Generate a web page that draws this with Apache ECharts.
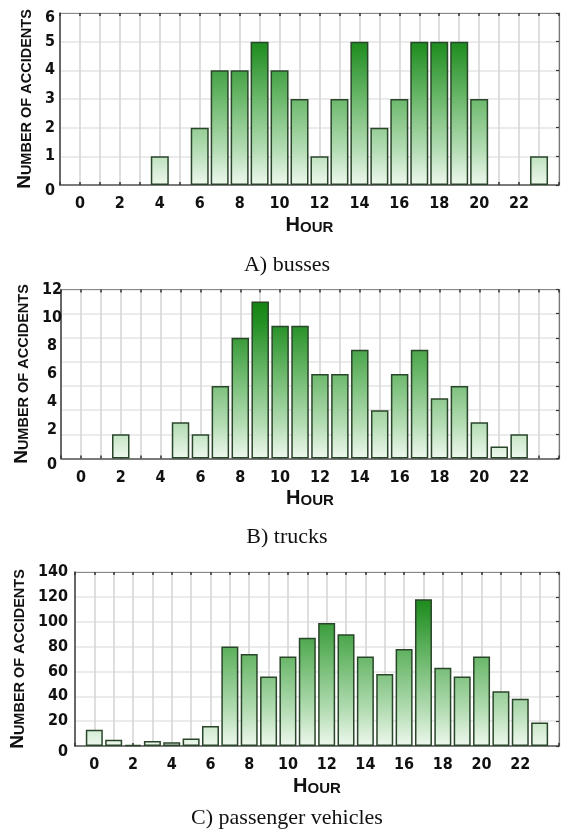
<!DOCTYPE html>
<html>
<head>
<meta charset="utf-8">
<script src="https://cdn.jsdelivr.net/npm/echarts@6/dist/echarts.min.js"></script>
<style>
  html, body { margin: 0; padding: 0; background: #ffffff; }
  #chart { width: 562px; height: 838px; }
</style>
</head>
<body>
<div id="chart"></div>
<script>
// Accidents per hour of day (0..23) for three vehicle groups
const hours = [0,1,2,3,4,5,6,7,8,9,10,11,12,13,14,15,16,17,18,19,20,21,22,23];
const busses = [0,0,0,0,1,0,2,4,4,5,4,3,1,3,5,2,3,5,5,5,3,0,0,1];
const trucks = [0,0,2,0,0,3,2,6,10,13,11,11,7,7,9,4,7,9,5,6,3,1,2,0];
const passengerVehicles = [13,5,1,4,3,6,16,80,74,56,72,87,99,90,72,58,78,118,63,56,72,44,38,19];

// Tick labels
const hourLabels = [0,2,4,6,8,10,12,14,16,18,20,22];
const busTicks = [0,1,2,3,4,5,6];
const truckTicks = [0,2,4,6,8,10,12];
const truckGridScale = [0,2,4,6,8,10,12,14];
const passengerTicks = [0,20,40,60,80,100,120,140];

const captions = ['A) busses', 'B) trucks', 'C) passenger vehicles'];

const TICK_FONT = "'DejaVu Sans Condensed', 'Liberation Sans', sans-serif";
const TITLE_FONT = "'Liberation Sans', Arial, sans-serif";
const CAPTION_FONT = "'Liberation Serif', 'Times New Roman', serif";

const panels = [
  { values: busses,            box: { left: 60, top: 13,  width: 500, height: 172 },   ticks: busTicks,       scale: busTicks,       barWidth: 18,   labelAlign: 'right',  labelMargin: 5, topShift: 10, captionY: 265 },
  { values: trucks,            box: { left: 61, top: 289.5, width: 502, height: 169 }, ticks: truckTicks,     scale: truckGridScale, barWidth: 17.5, labelAlign: 'center', labelMargin: 9, topShift: 0,  captionY: 537 },
  { values: passengerVehicles, box: { left: 66, top: 572, width: 493, height: 174 },   ticks: passengerTicks, scale: passengerTicks, barWidth: 17,   labelAlign: 'right',  labelMargin: 7, topShift: 0,  captionY: 818 }
];

function step(arr) { return arr[1] - arr[0]; }

const grid = [], xAxis = [], yAxis = [], series = [], graphic = [];

panels.forEach((p, i) => {
  grid.push(Object.assign({ containLabel: false }, p.box));

  // bottom hour axis with labels and vertical grid lines
  xAxis.push({
    type: 'value', gridIndex: i, position: 'bottom', min: -1, max: 24, interval: 1,
    axisLine: { show: true, onZero: false, lineStyle: { color: '#555', width: 1.5 } },
    axisTick: { show: true, inside: true, length: 3, lineStyle: { color: '#333', width: 1.5 } },
    splitLine: { show: true, lineStyle: { color: '#d6d6d6', width: 1.6 } },
    axisLabel: {
      margin: 11, color: '#111', fontFamily: TICK_FONT, fontWeight: 'bold', fontSize: 16,
      formatter: v => hourLabels.indexOf(v) >= 0 ? String(v) : ''
    },
    name: '{h|H}{s|OUR}', nameLocation: 'middle', nameGap: 28,
    nameTextStyle: {
      rich: {
        h: { fontFamily: TITLE_FONT, fontWeight: 'bold', fontSize: 20, color: '#111', verticalAlign: 'bottom', lineHeight: 22 },
        s: { fontFamily: TITLE_FONT, fontWeight: 'bold', fontSize: 15, color: '#111', verticalAlign: 'bottom', lineHeight: 22 }
      }
    }
  });
  // top frame edge with small inward ticks
  xAxis.push({
    type: 'value', gridIndex: i, position: 'top', min: -1, max: 24, interval: 1,
    axisLine: { show: true, onZero: false, lineStyle: { color: '#8a8a8a', width: 1.2 } },
    axisTick: { show: true, inside: true, length: 3, lineStyle: { color: '#333', width: 1.5 } },
    splitLine: { show: false }, axisLabel: { show: false }
  });

  const tMax = p.ticks[p.ticks.length - 1];
  const sMax = p.scale[p.scale.length - 1];
  const sameScale = p.scale === p.ticks;
  const tickRich = {
    z: { fontFamily: TICK_FONT, fontWeight: 'bold', fontSize: 16, color: '#111', padding: [12, 0, 0, 0] },
    t: { fontFamily: TICK_FONT, fontWeight: 'bold', fontSize: 16, color: '#111', padding: [p.topShift, 0, 0, 0] }
  };

  // left count axis carrying the tick labels and the axis title
  yAxis.push({
    type: 'value', gridIndex: i, position: 'left', min: 0, max: tMax, interval: step(p.ticks),
    axisLine: { show: true, onZero: false, lineStyle: { color: '#4a4a4a', width: 1.6 } },
    axisTick: { show: false },
    splitLine: { show: sameScale, lineStyle: { color: '#e4e4e4', width: 1.5 } },
    axisLabel: {
      margin: p.labelMargin, align: p.labelAlign, color: '#111', fontFamily: TICK_FONT, fontWeight: 'bold', fontSize: 16,
      formatter: v => v === 0 ? '{z|0}' : (v === tMax ? '{t|' + v + '}' : String(v)),
      rich: tickRich
    },
    name: '{n|N}{s|UMBER OF ACCIDENTS}', nameLocation: 'middle', nameGap: 25,
    nameTextStyle: {
      rich: {
        n: { fontFamily: TITLE_FONT, fontWeight: 'bold', fontSize: 19, color: '#111', verticalAlign: 'bottom', lineHeight: 20 },
        s: { fontFamily: TITLE_FONT, fontWeight: 'bold', fontSize: 14.5, color: '#111', verticalAlign: 'bottom', lineHeight: 20 }
      }
    }
  });
  // right frame edge; for the trucks panel it also holds the count scale of the bars
  yAxis.push({
    type: 'value', gridIndex: i, position: 'right', min: 0, max: sMax, interval: step(p.scale),
    axisLine: { show: true, onZero: false, lineStyle: { color: '#777', width: 1.2 } },
    axisTick: { show: true, inside: true, length: 3, lineStyle: { color: '#333', width: 1.2 } },
    splitLine: { show: !sameScale, lineStyle: { color: '#e4e4e4', width: 1.5 } },
    axisLabel: { show: false }
  });

  const top = p.box.top, bottom = p.box.top + p.box.height;
  const fill = new echarts.graphic.LinearGradient(0, top, 0, bottom, [
    { offset: 0, color: '#0a7c0a' },
    { offset: 0.2, color: '#249024' },
    { offset: 0.5, color: '#6cb86c' },
    { offset: 0.8, color: '#b5ddb5' },
    { offset: 1, color: '#eef8ee' }
  ], true);

  series.push({
    type: 'bar',
    xAxisIndex: i * 2,
    yAxisIndex: sameScale ? i * 2 : i * 2 + 1,
    barWidth: p.barWidth,
    data: hours.map((h, k) => [h, p.values[k]]).filter(d => d[1] > 0),
    itemStyle: { color: fill, borderColor: '#2a462a', borderWidth: 1.5 },
    silent: true,
    animation: false
  });

  graphic.push({
    type: 'text', x: 287, y: p.captionY,
    style: {
      text: captions[i], fill: '#111', fontFamily: CAPTION_FONT, fontSize: 22,
      align: 'center', verticalAlign: 'middle', textAlign: 'center', textVerticalAlign: 'middle'
    }
  });
});

const chart = echarts.init(document.getElementById('chart'));
chart.setOption({ animation: false, backgroundColor: '#ffffff', grid, xAxis, yAxis, series, graphic });
</script>
</body>
</html>
